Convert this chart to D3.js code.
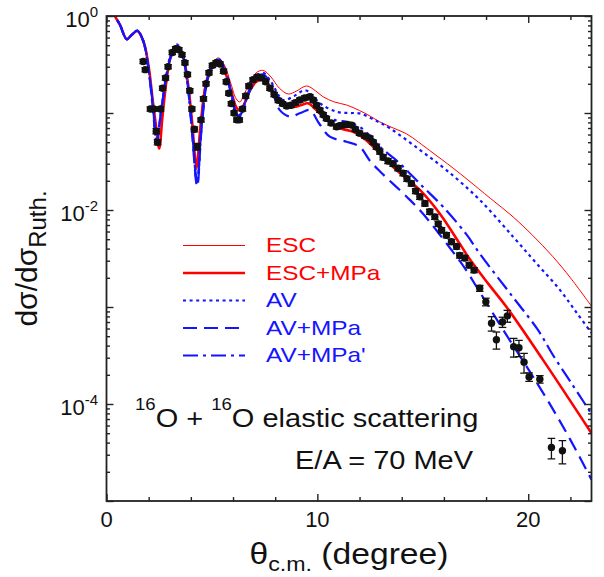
<!DOCTYPE html>
<html><head><meta charset="utf-8">
<script src="https://cdn.jsdelivr.net/npm/d3@7"></script>
<style>
html,body{margin:0;padding:0;background:#fff;}
svg{display:block;font-family:"Liberation Sans",Arial,Helvetica,sans-serif;}
</style></head><body>
<svg id="chart" width="604" height="577"></svg>
<script>
// Angular distributions: [theta_cm (deg), dsigma/dsigma_Ruth]
const escCurve = [[0.15,1.4],[0.4,1.0],[0.64,0.81],[0.96,0.58],[1.2,0.64],[1.46,0.71],[1.75,0.56],[2.0,0.3],[2.2,0.13],[2.36,0.07],[2.5,0.045],[2.65,0.09],[2.85,0.22],[3.05,0.38],[3.33,0.50],[3.6,0.42],[3.85,0.22],[4.05,0.09],[4.27,0.026],[4.45,0.075],[4.7,0.21],[5.0,0.32],[5.3,0.37],[5.6,0.31],[5.9,0.2],[6.15,0.14],[6.32,0.13],[6.5,0.15],[6.8,0.21],[7.1,0.26],[7.43,0.275],[7.8,0.235],[8.2,0.18],[8.62,0.157],[9.0,0.168],[9.49,0.19],[9.9,0.17],[10.27,0.147],[10.8,0.13],[11.38,0.121],[12.0,0.106],[12.5,0.093],[12.96,0.081],[13.6,0.07],[14.23,0.061],[14.8,0.05],[15.33,0.041],[16.44,0.027],[17.14,0.0204],[18.2,0.0132],[19.28,0.0085],[20.2,0.0055],[21.17,0.0033],[22.0,0.002],[23.0,0.00102]];
const escMPaCurve = [[0.15,1.4],[0.4,1.0],[0.64,0.81],[0.96,0.58],[1.2,0.64],[1.46,0.70],[1.75,0.55],[2.0,0.3],[2.2,0.13],[2.36,0.07],[2.5,0.043],[2.65,0.09],[2.85,0.22],[3.05,0.38],[3.35,0.48],[3.6,0.40],[3.85,0.21],[4.05,0.085],[4.27,0.028],[4.45,0.07],[4.7,0.19],[5.0,0.29],[5.3,0.33],[5.6,0.27],[5.9,0.17],[6.15,0.115],[6.3,0.107],[6.5,0.12],[6.8,0.17],[7.1,0.21],[7.43,0.22],[7.8,0.18],[8.2,0.135],[8.85,0.116],[9.2,0.12],[9.56,0.126],[9.9,0.11],[10.27,0.092],[11.07,0.07],[11.7,0.064],[12.2,0.055],[12.64,0.045],[13.75,0.0258],[14.86,0.0161],[15.8,0.0092],[16.75,0.0045],[17.23,0.0031],[18.1,0.00174],[18.97,0.001],[20.7,0.000285],[23.0,0.00005]];
const avCurve = [[0.15,1.4],[0.4,1.0],[0.64,0.81],[0.96,0.575],[1.2,0.64],[1.46,0.706],[1.75,0.55],[2.0,0.28],[2.2,0.12],[2.38,0.05],[2.55,0.09],[2.8,0.22],[3.05,0.40],[3.33,0.51],[3.6,0.41],[3.85,0.2],[4.05,0.07],[4.3,0.019],[4.5,0.07],[4.75,0.21],[5.0,0.31],[5.3,0.36],[5.6,0.29],[5.9,0.17],[6.15,0.1],[6.27,0.094],[6.45,0.11],[6.8,0.18],[7.1,0.24],[7.43,0.26],[7.8,0.21],[8.38,0.136],[8.9,0.15],[9.41,0.172],[9.8,0.15],[10.12,0.126],[10.91,0.103],[11.5,0.1],[12.0,0.099],[12.7,0.085],[13.44,0.0695],[14.86,0.0416],[16.12,0.0258],[17.7,0.0127],[19.28,0.0053],[20.4,0.0028],[21.5,0.0015],[22.3,0.00087],[23.0,0.00054]];
const avMPaCurve = [[0.15,1.4],[0.4,1.0],[0.64,0.81],[0.96,0.575],[1.2,0.64],[1.46,0.706],[1.75,0.54],[2.0,0.27],[2.2,0.11],[2.38,0.048],[2.55,0.09],[2.8,0.21],[3.05,0.38],[3.33,0.49],[3.6,0.39],[3.85,0.19],[4.05,0.065],[4.3,0.0175],[4.5,0.065],[4.75,0.2],[5.0,0.3],[5.3,0.35],[5.6,0.28],[5.9,0.16],[6.15,0.095],[6.27,0.09],[6.45,0.105],[6.8,0.17],[7.1,0.225],[7.43,0.235],[7.8,0.18],[8.22,0.107],[8.7,0.092],[9.2,0.1],[9.64,0.107],[10.1,0.077],[10.59,0.057],[11.38,0.0506],[12.0,0.045],[12.5,0.032],[12.96,0.0251],[14.22,0.0138],[15.0,0.0092],[16.6,0.0033],[17.0,0.0025],[18.0,0.00112],[19.0,0.0005],[20.0,0.000229],[21.0,0.000102],[22.0,0.0000427],[23.0,0.0000166]];
const avMPaPrimeCurve = [[0.15,1.4],[0.4,1.0],[0.64,0.81],[0.96,0.575],[1.2,0.64],[1.46,0.706],[1.75,0.55],[2.0,0.28],[2.2,0.12],[2.38,0.05],[2.55,0.09],[2.8,0.22],[3.05,0.39],[3.33,0.50],[3.6,0.40],[3.85,0.2],[4.05,0.07],[4.3,0.019],[4.5,0.07],[4.75,0.2],[5.0,0.31],[5.3,0.355],[5.6,0.285],[5.9,0.165],[6.15,0.1],[6.27,0.093],[6.45,0.108],[6.8,0.175],[7.1,0.235],[7.43,0.25],[7.8,0.2],[8.3,0.13],[8.8,0.122],[9.2,0.135],[9.56,0.147],[9.9,0.125],[10.27,0.099],[10.8,0.085],[11.38,0.081],[12.0,0.072],[12.5,0.058],[12.96,0.045],[13.9,0.0303],[15.0,0.0174],[15.96,0.0108],[17.07,0.0056],[17.7,0.00355],[19.28,0.00126],[20.46,0.00058],[21.17,0.00032],[22.0,0.00017],[22.83,0.00009],[23.0,0.000079]];

// Measured cross sections: [theta_cm, ratio, relative error]
const expData = [[1.74,0.34,0.05],[1.84,0.28,0.05],[2.08,0.11,0.05],[2.24,0.11,0.05],[2.36,0.065,0.06],[2.42,0.05,0.06],[2.56,0.11,0.05],[2.66,0.18,0.05],[2.8,0.23,0.05],[2.92,0.30,0.05],[3.12,0.42,0.05],[3.28,0.46,0.05],[3.43,0.45,0.05],[3.58,0.40,0.05],[3.72,0.33,0.05],[3.84,0.25,0.05],[3.95,0.17,0.05],[4.05,0.11,0.05],[4.17,0.068,0.06],[4.3,0.045,0.08],[4.48,0.085,0.05],[4.6,0.14,0.05],[4.72,0.2,0.05],[4.86,0.26,0.05],[5.02,0.31,0.05],[5.2,0.33,0.05],[5.38,0.32,0.05],[5.55,0.27,0.05],[5.68,0.21,0.05],[5.8,0.16,0.05],[5.92,0.125,0.05],[6.05,0.10,0.05],[6.18,0.085,0.05],[6.3,0.085,0.05],[6.45,0.11,0.05],[6.6,0.15,0.05],[6.75,0.19,0.05],[6.95,0.22,0.05],[7.15,0.235,0.05],[7.35,0.23,0.05],[7.55,0.21,0.05],[7.75,0.18,0.05],[7.95,0.155,0.05],[8.15,0.135,0.05],[8.35,0.125,0.05],[8.55,0.118,0.05],[8.75,0.12,0.05],[8.95,0.128,0.05],[9.17,0.136,0.05],[9.4,0.143,0.05],[9.64,0.147,0.05],[9.8,0.136,0.05],[9.96,0.12,0.05],[10.12,0.107,0.05],[10.28,0.096,0.05],[10.43,0.088,0.05],[10.65,0.079,0.05],[10.91,0.072,0.05],[11.05,0.074,0.05],[11.22,0.075,0.05],[11.42,0.076,0.05],[11.62,0.075,0.05],[11.8,0.068,0.05],[12.0,0.062,0.05],[12.25,0.058,0.05],[12.49,0.055,0.05],[12.65,0.05,0.05],[12.8,0.045,0.06],[12.96,0.04,0.06],[13.12,0.035,0.06],[13.35,0.032,0.06],[13.59,0.030,0.06],[13.83,0.027,0.06],[14.07,0.024,0.06],[14.25,0.021,0.06],[14.46,0.0188,0.06],[14.66,0.0157,0.06],[14.86,0.0137,0.06],[15.1,0.0117,0.06],[15.33,0.0096,0.06],[15.57,0.0085,0.06],[15.73,0.0072,0.06],[15.89,0.0062,0.06],[16.12,0.0055,0.06],[16.36,0.0047,0.06],[16.6,0.0042,0.06],[16.75,0.0034,0.06],[16.99,0.0032,0.06],[17.2,0.0027,0.06],[17.43,0.0024,0.06],[17.7,0.00156,0.07],[17.99,0.00113,0.09],[18.26,0.00068,0.17],[18.49,0.00046,0.2],[18.78,0.0007,0.12],[19.01,0.00081,0.14],[19.31,0.00039,0.22],[19.56,0.00038,0.19],[19.8,0.00027,0.23],[20.04,0.00019,0.1],[20.55,0.00018,0.09],[21.1,0.0000357,0.24],[21.62,0.000033,0.27]];

const xMajorTicks = [0, 10, 20];
const xMinorTicks = [2, 4, 6, 8, 12, 14, 16, 18, 22];
const yDecadeExponents = [-5, -4, -3, -2, -1, 0];
const yLabelExponents = [0, -2, -4];
const legendLabels = ["ESC", "ESC+MPa", "AV", "AV+MPa", "AV+MPa'"];

const RED = "#ff0000", BLUE = "#1414ff", AXIS = "#222";
const WIDE = 1.16; // horizontal stretch of the text face
const series = [
  {name: legendLabels[0], data: escCurve, color: RED, width: 1, dash: null},
  {name: legendLabels[1], data: escMPaCurve, color: RED, width: 2.6, dash: null},
  {name: legendLabels[2], data: avCurve, color: BLUE, width: 2.2, dash: "3,3.6"},
  {name: legendLabels[3], data: avMPaCurve, color: BLUE, width: 2.2, dash: "14,7"},
  {name: legendLabels[4], data: avMPaPrimeCurve, color: BLUE, width: 2.2, dash: "15,5,3,5"}
];

const L = 106.5, R = 591.5, T = 16, B = 501;
const svg = d3.select("#chart");
const x = d3.scaleLinear().domain([0, 23]).range([L, R]);
const y = d3.scaleLog().domain([1e-5, 1]).range([B, T]);

svg.append("defs").append("clipPath").attr("id", "plotClip")
  .append("rect").attr("x", L).attr("y", T).attr("width", R - L).attr("height", B - T);

// theory curves
const line = d3.line().x(d => x(d[0])).y(d => y(d[1])).curve(d3.curveCatmullRom.alpha(0.5));
const curves = svg.append("g").attr("clip-path", "url(#plotClip)");
series.forEach(s => {
  curves.append("path").datum(s.data).attr("d", line)
    .attr("fill", "none").attr("stroke", s.color).attr("stroke-width", s.width)
    .attr("stroke-dasharray", s.dash).attr("stroke-linejoin", "round");
});

// experimental points
const pts = svg.append("g").attr("clip-path", "url(#plotClip)");
expData.forEach(d => {
  const cx = x(d[0]), lo = y(d[1] * (1 - d[2])), hi = y(d[1] * (1 + d[2]));
  pts.append("line").attr("x1", cx).attr("x2", cx).attr("y1", lo).attr("y2", hi)
    .attr("stroke", "#111").attr("stroke-width", 1.3);
  [lo, hi].forEach(yy => pts.append("line").attr("x1", cx - 3.8).attr("x2", cx + 3.8)
    .attr("y1", yy).attr("y2", yy).attr("stroke", "#111").attr("stroke-width", 1.3));
  pts.append("circle").attr("cx", cx).attr("cy", y(d[1])).attr("r", 3.7).attr("fill", "#111");
});

// axes with inward ticks on all four sides
const yMajor = yDecadeExponents.map(e => Math.pow(10, e));
const yMinor = [];
yDecadeExponents.slice(0, -1).forEach(e => { for (let m = 2; m <= 9; m++) yMinor.push(m * Math.pow(10, e)); });

function styleAxis(g) {
  g.select(".domain").remove();
  g.selectAll("line").attr("stroke", AXIS).attr("stroke-width", 1.4);
}
const noLabel = () => "";
svg.append("g").attr("transform", `translate(${L},0)`)
  .call(d3.axisLeft(y).tickValues(yMajor).tickSize(-7).tickFormat(noLabel)).call(styleAxis);
svg.append("g").attr("transform", `translate(${L},0)`)
  .call(d3.axisLeft(y).tickValues(yMinor).tickSize(-3.5).tickFormat(noLabel)).call(styleAxis);
svg.append("g").attr("transform", `translate(${R},0)`)
  .call(d3.axisRight(y).tickValues(yMajor).tickSize(-7).tickFormat(noLabel)).call(styleAxis);
svg.append("g").attr("transform", `translate(${R},0)`)
  .call(d3.axisRight(y).tickValues(yMinor).tickSize(-3.5).tickFormat(noLabel)).call(styleAxis);
svg.append("g").attr("transform", `translate(0,${B})`)
  .call(d3.axisBottom(x).tickValues(xMajorTicks).tickSize(-7).tickFormat(noLabel)).call(styleAxis);
svg.append("g").attr("transform", `translate(0,${B})`)
  .call(d3.axisBottom(x).tickValues(xMinorTicks).tickSize(-4).tickFormat(noLabel)).call(styleAxis);
svg.append("g").attr("transform", `translate(0,${T})`)
  .call(d3.axisTop(x).tickValues(xMajorTicks).tickSize(-7).tickFormat(noLabel)).call(styleAxis);
svg.append("g").attr("transform", `translate(0,${T})`)
  .call(d3.axisTop(x).tickValues(xMinorTicks).tickSize(-4).tickFormat(noLabel)).call(styleAxis);

svg.append("rect").attr("x", L).attr("y", T).attr("width", R - L).attr("height", B - T)
  .attr("fill", "none").attr("stroke", AXIS).attr("stroke-width", 1.8);

// tick labels
svg.append("g").selectAll("text").data(xMajorTicks).join("text")
  .attr("x", d => x(d)).attr("y", B + 26).attr("text-anchor", "middle")
  .attr("font-size", 22).attr("fill", "#111").text(d => d);

yLabelExponents.forEach(e => {
  const t = svg.append("text").attr("x", 98).attr("y", y(Math.pow(10, e)) + 11)
    .attr("text-anchor", "end").attr("font-size", 22).attr("fill", "#111");
  t.append("tspan").text("10");
  t.append("tspan").attr("font-size", 15).attr("dy", -10).text(e);
});

// stretched text placed at (px, py)
function wideText(px, py, size, anchor) {
  return svg.append("g").attr("transform", `translate(${px},${py}) scale(${WIDE},1)`)
    .append("text").attr("font-size", size).attr("text-anchor", anchor || "start").attr("fill", "#111");
}

// axis titles
const xt = wideText((L + R) / 2, 564, 29, "middle");
xt.append("tspan").text("θ");
xt.append("tspan").attr("font-size", 20).attr("dy", 7).text("c.m.");
xt.append("tspan").attr("dy", -7).text(" (degree)");

const yt = svg.append("text").attr("transform", `translate(37,${(T + B) / 2}) rotate(-90)`)
  .attr("text-anchor", "middle").attr("font-size", 30).attr("fill", "#111");
yt.append("tspan").text("dσ/dσ");
yt.append("tspan").attr("font-size", 24).attr("dy", 9).text("Ruth.");

// legend
const legendRows = [245.5, 273, 300.5, 328, 355.5];
series.forEach((s, i) => {
  const yy = legendRows[i];
  svg.append("line").attr("x1", 183).attr("x2", 245).attr("y1", yy).attr("y2", yy)
    .attr("stroke", s.color).attr("stroke-width", s.width).attr("stroke-dasharray", s.dash);
  wideText(266, yy + 6.5, 21).attr("fill", s.color).text(s.name);
});

// reaction annotation
const a1 = wideText(135, 426.5, 25);
a1.append("tspan").attr("font-size", 16).attr("dy", -17).text("16");
a1.append("tspan").attr("dy", 17).text("O + ");
a1.append("tspan").attr("font-size", 16).attr("dy", -17).text("16");
a1.append("tspan").attr("dy", 17).text("O elastic scattering");
wideText(295, 468.5, 25).text("E/A = 70 MeV");
</script>
</body></html>
